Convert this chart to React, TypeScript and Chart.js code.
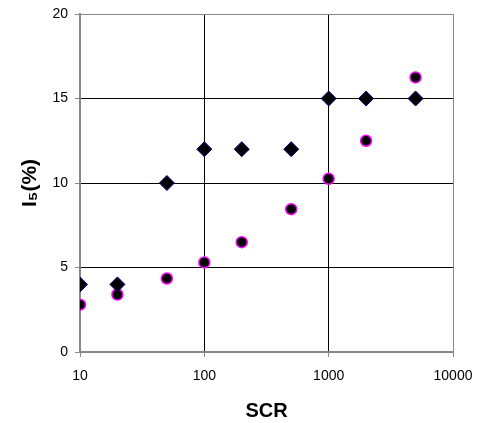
import React, { useEffect, useRef } from "react";
import { Chart, registerables } from "chart.js";

Chart.register(...registerables);

const scrValues = [10, 20, 50, 100, 200, 500, 1000, 2000, 5000];
const diamondSeries = [4, 4, 10, 12, 12, 12, 15, 15, 15];
const circleSeries = [2.8, 3.4, 4.35, 5.3, 6.5, 8.45, 10.25, 12.5, 16.25];
const xTickValues = [10, 100, 1000, 10000];
const yTickValues = [0, 5, 10, 15, 20];

const FONT = "'Liberation Sans', Arial, sans-serif";

export default function App() {
  const ref = useRef<HTMLCanvasElement | null>(null);

  useEffect(() => {
    document.body.style.margin = "0";
    const canvas = ref.current;
    if (!canvas) return;
    const chart = new Chart(canvas, {
      type: "scatter",
      data: {
        datasets: [
          {
            label: "A",
            data: scrValues.map((x, i) => ({ x, y: diamondSeries[i] })),
            pointStyle: "rectRot",
            pointRadius: 7.5,
            backgroundColor: "#000000",
            borderColor: "#000080",
            borderWidth: 1,
          },
          {
            label: "B",
            data: scrValues.map((x, i) => ({ x, y: circleSeries[i] })),
            pointStyle: "circle",
            pointRadius: 5.5,
            backgroundColor: "#000000",
            borderColor: "#ff00ff",
            borderWidth: 1.5,
          },
        ],
      },
      options: {
        animation: false,
        responsive: false,
        maintainAspectRatio: false,
        layout: { padding: { left: 0, right: 29, top: 14, bottom: 0 } },
        plugins: { legend: { display: false }, tooltip: { enabled: false } },
        scales: {
          x: {
            type: "logarithmic",
            min: 10,
            max: 10000,
            afterBuildTicks: (scale: any) => {
              scale.ticks = xTickValues.map((v) => ({ value: v }));
            },
            afterFit: (scale: any) => {
              scale.height = 71;
              scale.paddingRight = 0;
              scale.paddingLeft = 0;
            },
            ticks: {
              color: "#000",
              font: { family: FONT, size: 14 },
              padding: 11,
              maxRotation: 0,
              autoSkip: false,
              callback: (v: any) => String(v),
            },
            grid: {
              color: (ctx: any) =>
                ctx.tick && ctx.tick.value === 10000 ? "#888888" : "#000000",
              lineWidth: 1,
              tickLength: 5,
              tickColor: "#888888",
            },
            border: { color: "#888888", width: 2 },
            title: {
              display: true,
              text: "SCR",
              color: "#000",
              font: { family: FONT, size: 20, weight: "bold" },
              padding: { top: 0, bottom: 0 },
            },
          },
          y: {
            min: 0,
            max: 20,
            afterBuildTicks: (scale: any) => {
              scale.ticks = yTickValues.map((v) => ({ value: v }));
            },
            afterFit: (scale: any) => {
              scale.width = 80;
              scale.paddingTop = 0;
              scale.paddingBottom = 0;
            },
            ticks: {
              color: "#000",
              font: { family: FONT, size: 14 },
              padding: 7,
            },
            grid: {
              color: (ctx: any) =>
                ctx.tick && ctx.tick.value === 20 ? "#888888" : "#000000",
              lineWidth: 1,
              tickLength: 5,
              tickColor: "#888888",
            },
            border: { color: "#888888", width: 2 },
            title: {
              display: true,
              text: "I₅(%)",
              color: "#000",
              font: { family: FONT, size: 21, weight: "bold" },
              padding: { top: 18, bottom: 0 },
            },
          },
        },
      },
    });
    return () => chart.destroy();
  }, []);

  return (
    <div style={{ width: 482, height: 423 }}>
      <canvas ref={ref} width={482} height={423} style={{ display: "block" }} />
    </div>
  );
}
